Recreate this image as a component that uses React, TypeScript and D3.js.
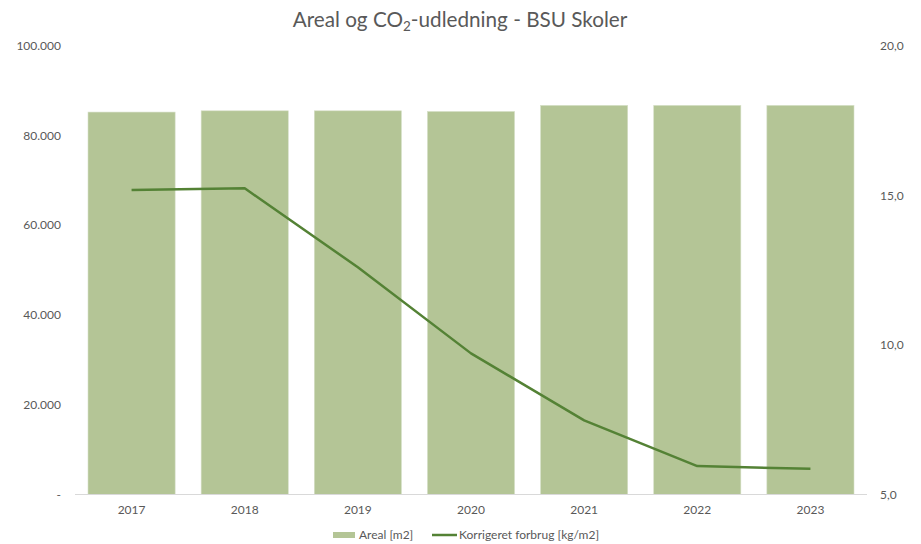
import React from "react";
import * as d3 from "d3";

const years = ["2017", "2018", "2019", "2020", "2021", "2022", "2023"];
const areal = [85270, 85550, 85550, 85400, 86760, 86760, 86760];
const forbrug = [15.18, 15.24, 12.6, 9.72, 7.48, 5.95, 5.86];
const leftTicks = [0, 20000, 40000, 60000, 80000, 100000];
const rightTicks = [5, 10, 15, 20];

const W = 921;
const H = 544;
const FONT = "'Lato', 'Open Sans', sans-serif";
const TXT = "#595959";

export default function App() {
  const x = d3.scaleBand<string>().domain(years).range([75, 867]).paddingInner(0.23).paddingOuter(0.115);
  const yL = d3.scaleLinear().domain([0, 100000]).range([494.5, 46]);
  const yR = d3.scaleLinear().domain([5, 20]).range([494.5, 46]);
  const fmtL = (v: number) => (v === 0 ? "-" : d3.format(",")(v).replace(/,/g, "."));
  const fmtR = (v: number) => v.toFixed(1).replace(".", ",");
  const line = d3
    .line<number>()
    .x((_, i) => (x(years[i]) as number) + x.bandwidth() / 2)
    .y((d) => yR(d));

  return (
    <svg width={W} height={H} style={{ position: "absolute", left: 0, top: 0, background: "#fff" }} fontFamily={FONT}>
      <rect width={W} height={H} fill="#fff" />
      <text x={460} y={27} textAnchor="middle" fontSize={20.7} fill={TXT}>
        Areal og CO<tspan fontSize={13.5} dy={4}>2</tspan>
        <tspan dy={-4}>-udledning - BSU Skoler</tspan>
      </text>
      {leftTicks.map((t) => (
        <text key={"l" + t} x={61} y={yL(t) + 4} textAnchor="end" fontSize={12} fill={TXT}>
          {fmtL(t)}
        </text>
      ))}
      {rightTicks.map((t) => (
        <text key={"r" + t} x={880} y={yR(t) + 4} textAnchor="start" fontSize={12} fill={TXT}>
          {fmtR(t)}
        </text>
      ))}
      {areal.map((v, i) => (
        <rect
          key={years[i]}
          x={x(years[i])}
          y={yL(v)}
          width={x.bandwidth()}
          height={yL(0) - yL(v)}
          fill="#b4c596"
          stroke="#d6dfc7"
          strokeWidth={0.6}
        />
      ))}
      <line x1={75} x2={867} y1={yL(0)} y2={yL(0)} stroke="#d9d9d9" strokeWidth={1} />
      {years.map((y) => (
        <text key={"x" + y} x={(x(y) as number) + x.bandwidth() / 2} y={514} textAnchor="middle" fontSize={12} fill={TXT}>
          {y}
        </text>
      ))}
      <path d={line(forbrug) || ""} fill="none" stroke="#548235" strokeWidth={2.5} strokeLinejoin="round" />
      <rect x={333} y={532} width={22} height={6} fill="#b4c596" />
      <text x={359} y={539} fontSize={12} fill={TXT}>Areal [m2]</text>
      <line x1={432} x2={457} y1={535} y2={535} stroke="#548235" strokeWidth={2.5} />
      <text x={459} y={539} fontSize={12} fill={TXT}>Korrigeret forbrug [kg/m2]</text>
    </svg>
  );
}
